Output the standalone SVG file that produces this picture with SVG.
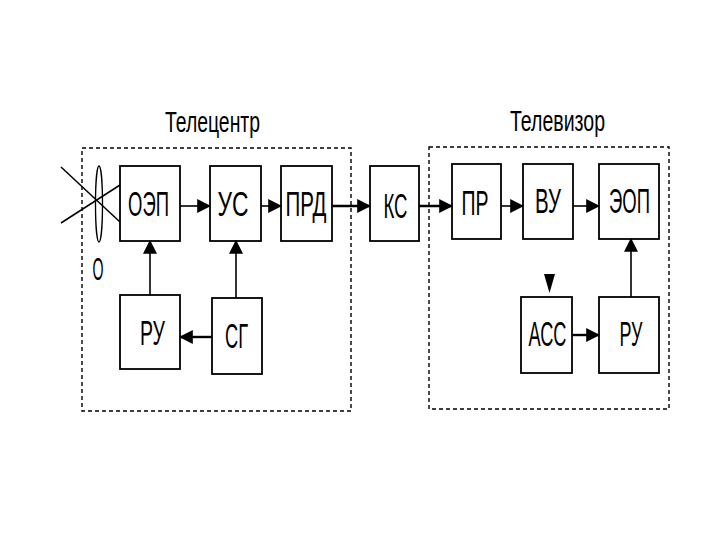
<svg xmlns="http://www.w3.org/2000/svg" width="720" height="540" viewBox="0 0 720 540">
<style>
.box{fill:#fff;stroke:#000;stroke-width:1.8}
.frame{fill:none;stroke:#000;stroke-width:1.4;stroke-dasharray:4 3}
.lbl{font-family:"Liberation Sans",Arial,sans-serif;font-size:35px;fill:#000;text-anchor:middle}
.ttl{font-family:"Liberation Sans",Arial,sans-serif;font-size:30px;fill:#000;text-anchor:middle}
.c{fill:none;stroke:#000;stroke-width:1.6}
.ct{fill:none;stroke:#000;stroke-width:2.4}
</style>
<defs>
<marker id="ah" markerUnits="userSpaceOnUse" markerWidth="14" markerHeight="14" viewBox="0 0 12 12" refX="11" refY="6" orient="auto">
<path d="M0,0 L12,6 L0,12 Z" fill="#000"/>
</marker>
</defs>
<rect width="720" height="540" fill="#fff"/>
<g id="telecentre">
<rect class="frame" x="82" y="148" width="269" height="263"/>
<text class="ttl" x="212.5" y="132" textLength="95" lengthAdjust="spacingAndGlyphs">Телецентр</text>
</g>
<g id="televizor">
<rect class="frame" x="429" y="147" width="240" height="262"/>
<text class="ttl" x="557.5" y="131" textLength="95" lengthAdjust="spacingAndGlyphs">Телевизор</text>
</g>
<g id="lens">
<line x1="61" y1="167" x2="120" y2="222" stroke="#000" stroke-width="1.5"/>
<line x1="61" y1="223" x2="120" y2="185" stroke="#000" stroke-width="1.5"/>
<ellipse cx="99" cy="204" rx="3.5" ry="38" fill="none" stroke="#000" stroke-width="1.3"/>
<text class="lbl" x="98" y="280" textLength="11" lengthAdjust="spacingAndGlyphs" style="font-size:31px">О</text>
</g>
<g id="oep"><rect class="box" x="120" y="166" width="60" height="75"/><text class="lbl" x="148.5" y="216" textLength="41" lengthAdjust="spacingAndGlyphs">ОЭП</text></g>
<g id="us"><rect class="box" x="210" y="166" width="51" height="75"/><text class="lbl" x="233" y="216" textLength="31" lengthAdjust="spacingAndGlyphs">УС</text></g>
<g id="prd"><rect class="box" x="281" y="166" width="51" height="75"/><text class="lbl" x="306" y="216" textLength="41" lengthAdjust="spacingAndGlyphs">ПРД</text></g>
<g id="ru1"><rect class="box" x="120" y="295" width="60" height="74"/><text class="lbl" x="152.5" y="345" textLength="25" lengthAdjust="spacingAndGlyphs">РУ</text></g>
<g id="sg"><rect class="box" x="212" y="298" width="50" height="76"/><text class="lbl" x="236.5" y="348" textLength="23" lengthAdjust="spacingAndGlyphs">СГ</text></g>
<g id="ks"><rect class="box" x="370" y="166" width="49" height="75"/><text class="lbl" x="395.5" y="218" textLength="24" lengthAdjust="spacingAndGlyphs">КС</text></g>
<g id="pr"><rect class="box" x="452" y="164" width="49" height="75"/><text class="lbl" x="475" y="215" textLength="27" lengthAdjust="spacingAndGlyphs">ПР</text></g>
<g id="vu"><rect class="box" x="523" y="164" width="50" height="75"/><text class="lbl" x="548" y="213" textLength="26" lengthAdjust="spacingAndGlyphs">ВУ</text></g>
<g id="eop"><rect class="box" x="599" y="164" width="60" height="75"/><text class="lbl" x="629.5" y="213" textLength="41" lengthAdjust="spacingAndGlyphs">ЭОП</text></g>
<g id="ass"><rect class="box" x="521" y="297" width="51" height="76"/><text class="lbl" x="547.5" y="346" textLength="38" lengthAdjust="spacingAndGlyphs">АСС</text></g>
<g id="ru2"><rect class="box" x="599" y="297" width="60" height="76"/><text class="lbl" x="631" y="346" textLength="23" lengthAdjust="spacingAndGlyphs">РУ</text></g>
<g id="connectors">
<line class="c" x1="180" y1="206" x2="210" y2="206" marker-end="url(#ah)"/>
<line class="c" x1="261" y1="206" x2="281" y2="206" marker-end="url(#ah)"/>
<line class="ct" x1="332" y1="206" x2="370" y2="206" marker-end="url(#ah)"/>
<line class="c" x1="150" y1="295" x2="150" y2="241" marker-end="url(#ah)"/>
<line class="c" x1="236" y1="298" x2="236" y2="241" marker-end="url(#ah)"/>
<line class="ct" x1="212" y1="337" x2="180" y2="337" marker-end="url(#ah)"/>
<line class="ct" x1="419" y1="206" x2="452" y2="206" marker-end="url(#ah)"/>
<line class="c" x1="501" y1="206" x2="523" y2="206" marker-end="url(#ah)"/>
<line class="c" x1="573" y1="206" x2="599" y2="206" marker-end="url(#ah)"/>
<line class="c" x1="631" y1="297" x2="631" y2="239" marker-end="url(#ah)"/>
<line class="ct" x1="572" y1="335" x2="599" y2="335" marker-end="url(#ah)"/>
<path d="M544,274 L555,274 L549.5,293 Z" fill="#000"/>
</g>
</svg>
